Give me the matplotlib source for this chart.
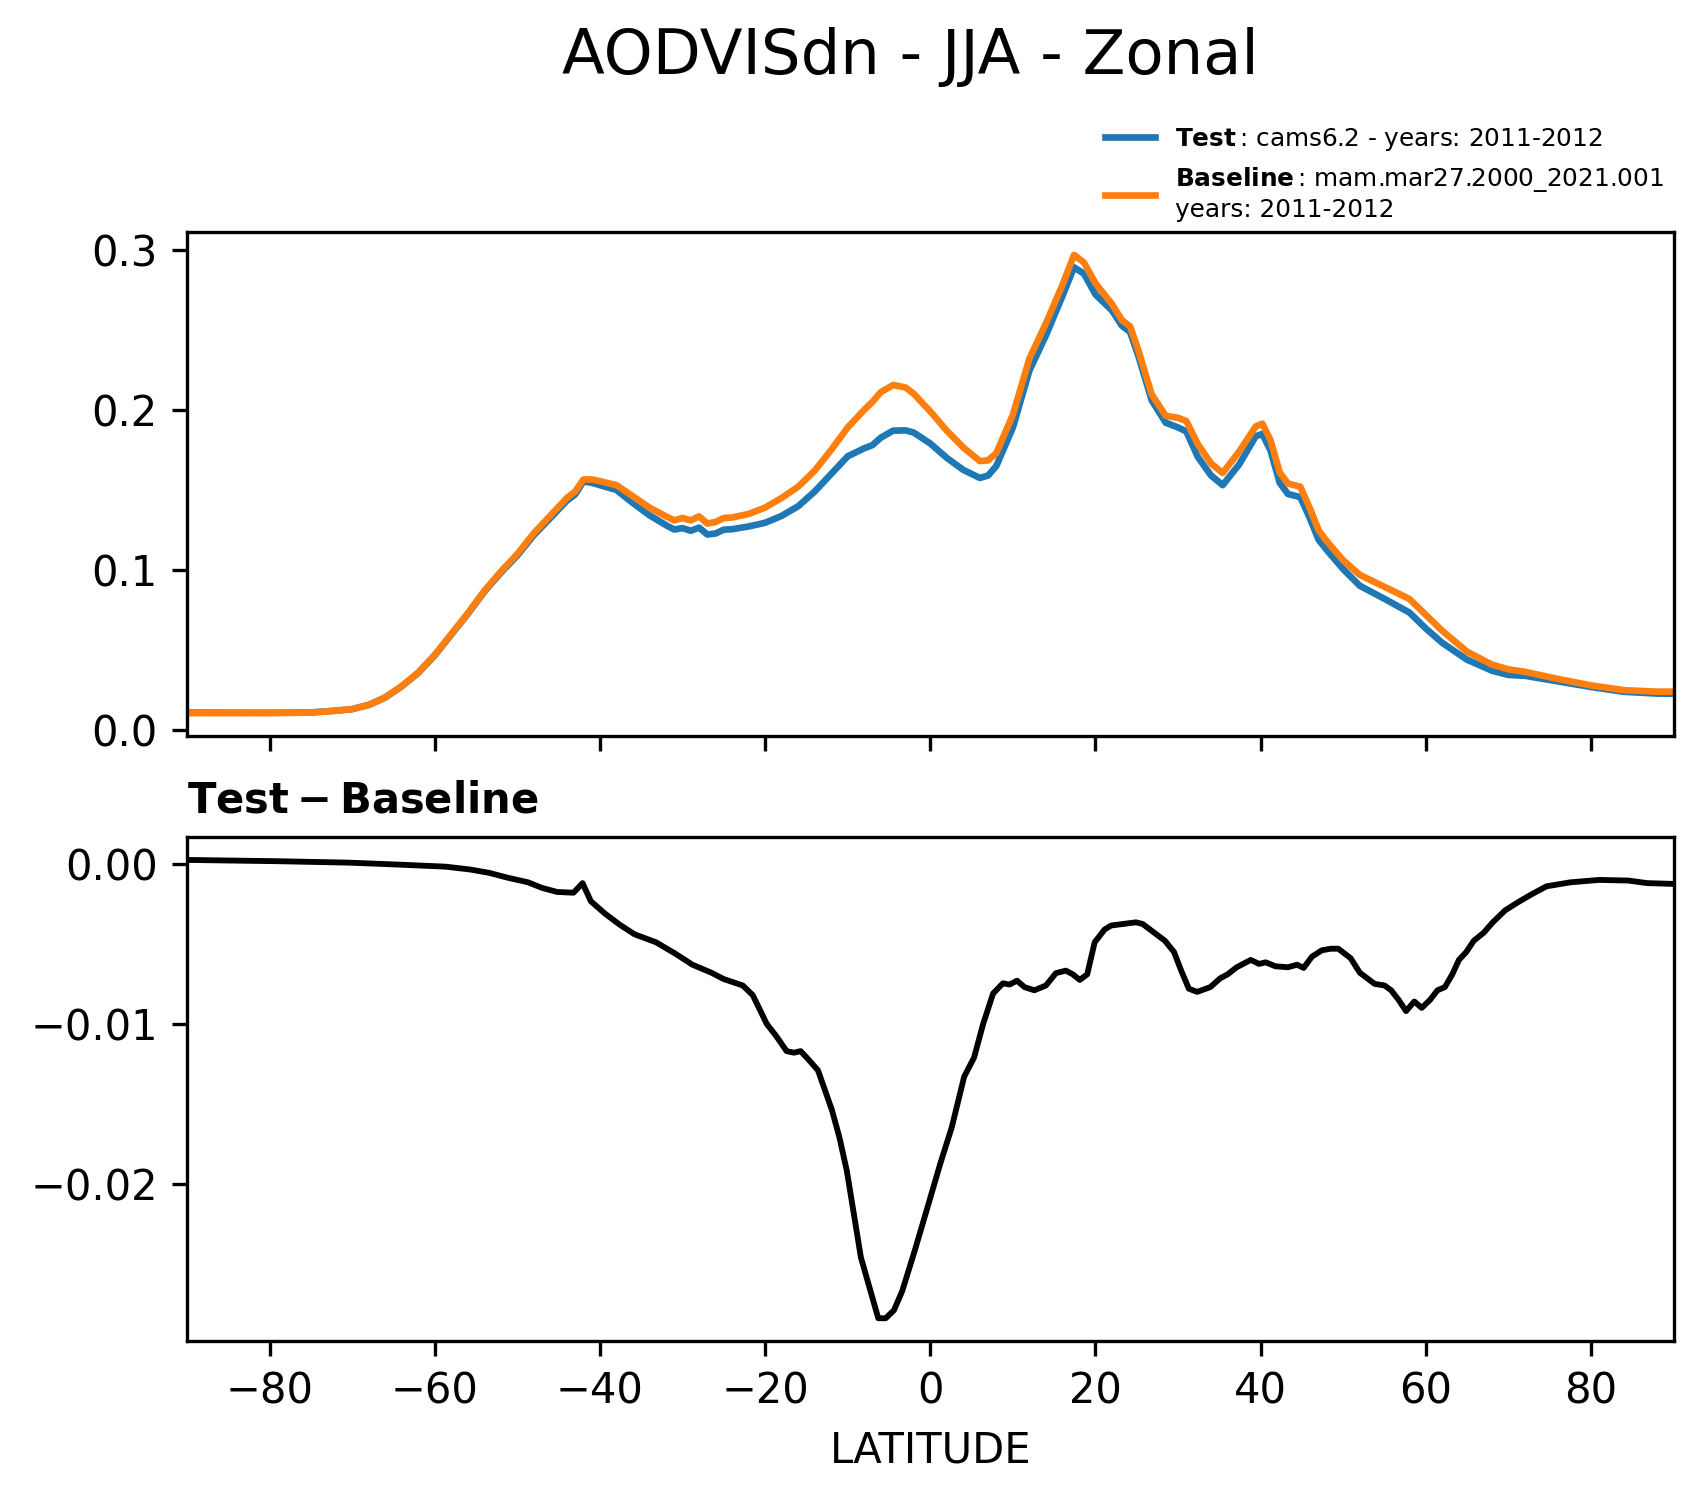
import matplotlib
matplotlib.use("Agg")
import matplotlib.pyplot as plt

# ---------------- data ----------------
lat_zonal = [-90, -80, -75, -72, -70, -68, -66, -64, -62, -60, -58, -56, -54, -52, -50,
             -48, -46, -44, -43, -42, -41, -40, -38, -36, -34, -32, -31, -30, -29, -28,
             -27, -26, -25, -24, -22, -20, -18, -16, -14, -12, -10, -8, -7, -6, -4.5,
             -3, -2, 0, 2, 4, 6, 7, 8, 10, 12, 14, 16, 17.4, 18.6, 20, 22, 23.2, 24.2,
             25.2, 26.8, 28.5, 30, 31, 32.4, 34, 35.4, 37.4, 39.4, 40.2, 41.2, 42.3,
             43.3, 44.8, 46, 47, 48, 50, 52, 55, 58, 60, 62, 65, 68, 70, 72, 76, 80,
             84, 88, 90]

aod_baseline = [0.0107, 0.0107, 0.0110, 0.0122, 0.0132, 0.0158, 0.0205, 0.0275, 0.0360,
                0.0470, 0.0600, 0.0730, 0.0870, 0.0990, 0.1100, 0.1230, 0.1340, 0.1450,
                0.1490, 0.1565, 0.1566, 0.1555, 0.1530, 0.1460, 0.1390, 0.1335, 0.1310,
                0.1325, 0.1310, 0.1335, 0.1290, 0.1300, 0.1325, 0.1328, 0.1350, 0.1390,
                0.1450, 0.1520, 0.1620, 0.1750, 0.1890, 0.2000, 0.2050, 0.2110, 0.2155,
                0.2140, 0.2100, 0.1990, 0.1870, 0.1765, 0.1680, 0.1685, 0.1730, 0.1970,
                0.2320, 0.2540, 0.2780, 0.2967, 0.2920, 0.2790, 0.2660, 0.2560, 0.2520,
                0.2370, 0.2097, 0.1963, 0.1950, 0.1930, 0.1785, 0.1665, 0.1606, 0.1740,
                0.1896, 0.1914, 0.1810, 0.1610, 0.1540, 0.1520, 0.1380, 0.1250, 0.1180,
                0.1060, 0.0970, 0.0895, 0.0820, 0.0720, 0.0620, 0.0490, 0.0410, 0.0380,
                0.0365, 0.0320, 0.0280, 0.0250, 0.0241, 0.0241]

aod_test = [0.0110, 0.0109, 0.0111, 0.0122, 0.0132, 0.0158, 0.0204, 0.0274, 0.0358,
            0.0467, 0.0597, 0.0726, 0.0865, 0.0983, 0.1091, 0.1218, 0.1325, 0.1433,
            0.1472, 0.1553, 0.1545, 0.1530, 0.1500, 0.1418, 0.1342, 0.1280, 0.1253,
            0.1262, 0.1245, 0.1265, 0.1222, 0.1228, 0.1252, 0.1255, 0.1272, 0.1295,
            0.1338, 0.1398, 0.1490, 0.1600, 0.1710, 0.1760, 0.1780, 0.1826, 0.1870,
            0.1872, 0.1858, 0.1790, 0.1700, 0.1625, 0.1575, 0.1590, 0.1650, 0.1890,
            0.2245, 0.2465, 0.2710, 0.2890, 0.2850, 0.2720, 0.2620, 0.2525, 0.2485,
            0.2335, 0.2060, 0.1920, 0.1890, 0.1865, 0.1705, 0.1590, 0.1530, 0.1660,
            0.1835, 0.1850, 0.1745, 0.1545, 0.1475, 0.1455, 0.1318, 0.1190, 0.1125,
            0.1005, 0.0902, 0.0820, 0.0735, 0.0635, 0.0545, 0.0440, 0.0372, 0.0345,
            0.0340, 0.0305, 0.0270, 0.0240, 0.0229, 0.0228]

lat_diff = [-90, -79, -70.4, -64.5, -58.7, -55.7, -53.4, -51.1, -48.7, -47.0, -45.2,
            -43.2, -42.1, -41.1, -39.4, -37.6, -35.8, -33.2, -30.9, -28.8, -26.5, -25.0,
            -22.7, -21.5, -19.8, -18.6, -17.4, -16.5, -15.7, -14.8, -13.6, -11.9, -11.0,
            -10.1, -8.4, -6.3, -5.4, -4.4, -3.4, -1.9, -0.3, 1.2, 2.6, 4.1, 5.3, 6.4,
            7.6, 8.8, 9.6, 10.5, 11.4, 12.6, 14.0, 15.2, 16.4, 17.25, 18.1, 19.0, 19.9,
            21.1, 21.9, 24.9, 25.7, 28.4, 29.5, 30.4, 31.3, 32.3, 33.9, 35.1, 36.0, 37.1,
            38.8, 39.8, 40.6, 41.8, 43.3, 44.4, 45.2, 46.2, 47.4, 48.5, 49.4, 50.9, 52.0,
            53.8, 55.0, 55.8, 56.7, 57.6, 58.6, 59.5, 60.5, 61.4, 62.3, 63.2, 64.0, 64.9,
            65.8, 67.0, 68.1, 69.6, 71.3, 72.8, 74.6, 77.5, 81.0, 84.5, 86.8, 90]

aod_diff = [0.00025, 0.00017, 0.00008, -0.00004, -0.00017, -0.00035, -0.00056, -0.00087,
            -0.00115, -0.0015, -0.00175, -0.0018, -0.0012, -0.00233, -0.0031, -0.0038,
            -0.0044, -0.0049, -0.0056, -0.0063, -0.0068, -0.0072, -0.0076, -0.0082,
            -0.0100, -0.0108, -0.0117, -0.0118, -0.0117, -0.0122, -0.0129, -0.0154,
            -0.0171, -0.0192, -0.0246, -0.0284, -0.0284, -0.0279, -0.0267, -0.0242,
            -0.0214, -0.01875, -0.01646, -0.0133, -0.0121, -0.0100, -0.0081, -0.00746,
            -0.00754, -0.0073, -0.0077, -0.0079, -0.0076, -0.00683, -0.00667, -0.0069,
            -0.00725, -0.0069, -0.0049, -0.0041, -0.00385, -0.00365, -0.00375, -0.0048,
            -0.0055, -0.0067, -0.0078, -0.0080, -0.0077, -0.00715, -0.0069, -0.00646,
            -0.0060, -0.00625, -0.00615, -0.0064, -0.00646, -0.0063, -0.0065, -0.0058,
            -0.0054, -0.0053, -0.0053, -0.0059, -0.0068, -0.0075, -0.0076, -0.0079,
            -0.0085, -0.0092, -0.0086, -0.0090, -0.0085, -0.0079, -0.0077, -0.0069,
            -0.0060, -0.0055, -0.0048, -0.0043, -0.00365, -0.0029, -0.00235, -0.0019,
            -0.0014, -0.00115, -0.0010, -0.00104, -0.0012, -0.00125]

xticks = [-80, -60, -40, -20, 0, 20, 40, 60, 80]
title_text = "AODVISdn - JJA - Zonal"
test_label = r"$\mathbf{Test}\,$: cams6.2 - years: 2011-2012"
base_label = r"$\mathbf{Baseline}\,$: mam.mar27.2000_2021.001" + "\nyears: 2011-2012"

# ---------------- figure ----------------
plt.rcParams["font.family"] = ["DejaVu Sans"]
fig = plt.figure(figsize=(5.68, 4.9867), dpi=300)

ax1 = fig.add_axes([0.1097, 0.5080, 0.8725, 0.3369])
ax2 = fig.add_axes([0.1097, 0.1035, 0.8725, 0.3370])

ax1.plot(lat_zonal, aod_test, color="#1f77b4", lw=1.6, label=test_label)
ax1.plot(lat_zonal, aod_baseline, color="#ff7f0e", lw=1.6, label=base_label)
ax1.set_xlim(-90, 90)
ax1.set_xticks(xticks)
ax1.set_xticklabels([])
ax1.tick_params(labelsize=10)
ax1.legend(loc="lower right", bbox_to_anchor=(1.0, 1.0), borderaxespad=0.0,
           frameon=False, fontsize=5.95)

ax2.plot(lat_diff, aod_diff, color="black", lw=1.4)
ax2.set_xlim(-90, 90)
ax2.set_xticks(xticks)
ax2.tick_params(labelsize=10)
ax2.set_xlabel("LATITUDE", fontsize=10)
ax2.set_title(r"$\mathbf{Test - Baseline}$", loc="left", fontsize=10)

fig.text(0.534, 0.962, title_text, ha="center", va="center", fontsize=15)

fig.savefig("out.png", dpi=300)
